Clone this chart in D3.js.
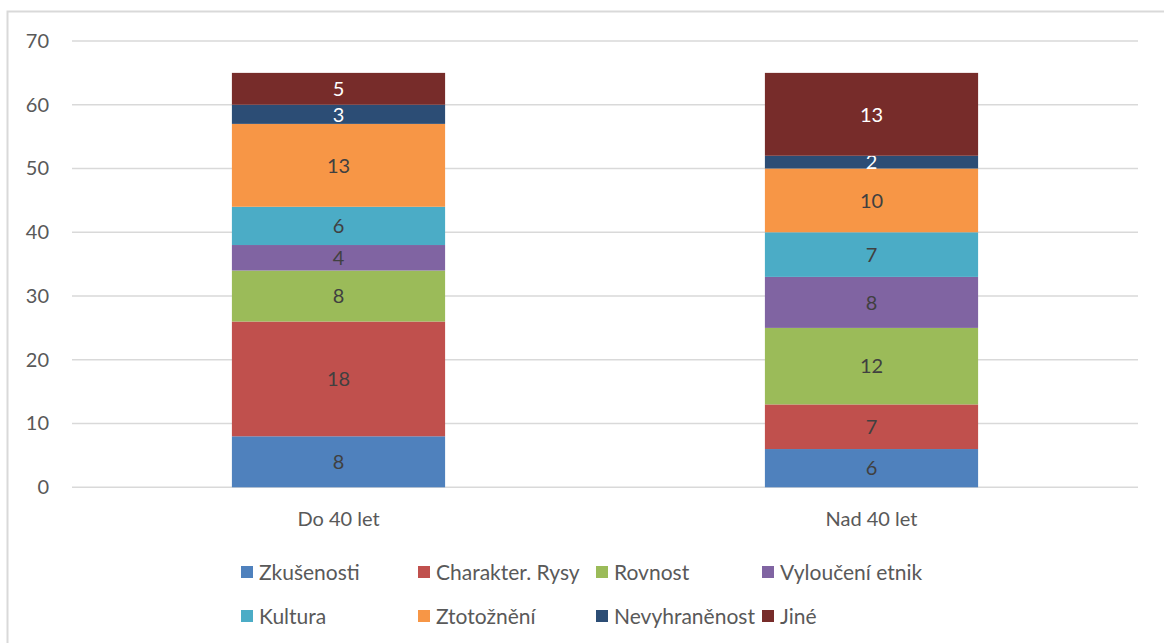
<!DOCTYPE html>
<html>
<head>
<meta charset="utf-8">
<script src="https://cdn.jsdelivr.net/npm/d3@7"></script>
<style>
  body { margin: 0; background: #fff; }
  svg text { font-family: Lato, "Open Sans", sans-serif; }
</style>
</head>
<body>
<div id="chart"></div>
<script>
var categories = ["Do 40 let", "Nad 40 let"];
var seriesNames = ["Zkušenosti", "Charakter. Rysy", "Rovnost", "Vyloučení etnik", "Kultura", "Ztotožnění", "Nevyhraněnost", "Jiné"];
var zkusenosti = [8, 6];
var charakter = [18, 7];
var rovnost = [8, 12];
var vylouceni = [4, 8];
var kultura = [6, 7];
var ztotozneni = [13, 10];
var nevyhranenost = [3, 2];
var jine = [5, 13];
var yTicks = [0, 10, 20, 30, 40, 50, 60, 70];
var colors = ["#4F81BD", "#C0504D", "#9BBB59", "#8064A2", "#4BACC6", "#F79646", "#2C4D75", "#772C2A"];
var labelColors = ["#404040", "#404040", "#404040", "#404040", "#404040", "#404040", "#ffffff", "#ffffff"];

var seriesValues = [zkusenosti, charakter, rovnost, vylouceni, kultura, ztotozneni, nevyhranenost, jine];
var table = categories.map(function(c, i) {
  var row = {cat: c};
  seriesNames.forEach(function(s, j) { row[s] = seriesValues[j][i]; });
  return row;
});

var W = 1164, H = 643;
var svg = d3.select("#chart").append("svg").attr("width", W).attr("height", H);

// chart frame
svg.append("rect").attr("x", 7.5).attr("y", 11.5).attr("width", W).attr("height", H)
  .attr("fill", "none").attr("stroke", "#d9d9d9").attr("stroke-width", 2);

var plotLeft = 72, plotRight = 1138, plotTop = 41, plotBottom = 487.3;

var x = d3.scaleBand().domain(categories).range([plotLeft, plotRight]).paddingInner(0.6).paddingOuter(0.3);
var y = d3.scaleLinear().domain([0, 70]).range([plotBottom, plotTop]);

// gridlines
svg.append("g").selectAll("line").data(yTicks).enter().append("line")
  .attr("x1", plotLeft).attr("x2", plotRight)
  .attr("y1", function(d) { return y(d); }).attr("y2", function(d) { return y(d); })
  .attr("stroke", "#d9d9d9").attr("stroke-width", 1.5);

// y axis labels
var yAxis = svg.append("g").attr("transform", "translate(" + plotLeft + ",0)")
  .call(d3.axisLeft(y).tickValues(yTicks).tickSize(0).tickPadding(23));
yAxis.select(".domain").remove();
yAxis.selectAll("text").attr("fill", "#595959").style("font-size", "20px");

var stack = d3.stack().keys(seriesNames)(table);

var layers = svg.append("g").selectAll("g").data(stack).enter().append("g")
  .attr("fill", function(d, i) { return colors[i]; });

layers.selectAll("rect").data(function(d) { return d; }).enter().append("rect")
  .attr("x", function(d) { return x(d.data.cat); })
  .attr("width", x.bandwidth())
  .attr("y", function(d) { return y(d[1]); })
  .attr("height", function(d) { return y(d[0]) - y(d[1]); });

// value labels
layers.each(function(s, i) {
  d3.select(this).selectAll("text").data(s).enter().append("text")
    .attr("x", function(d) { return x(d.data.cat) + x.bandwidth() / 2; })
    .attr("y", function(d) { return (y(d[0]) + y(d[1])) / 2; })
    .attr("dy", "0.36em")
    .attr("text-anchor", "middle")
    .attr("fill", labelColors[i])
    .style("font-size", "20px")
    .text(function(d) { return d[1] - d[0]; });
});

// x axis labels
var xAxis = svg.append("g").attr("transform", "translate(0," + plotBottom + ")")
  .call(d3.axisBottom(x).tickSize(0).tickPadding(25));
xAxis.select(".domain").remove();
xAxis.selectAll("text").attr("fill", "#595959").style("font-size", "20px");

// legend
var legX = [241, 418, 596, 762];
var legY = [572, 616];
var leg = svg.append("g").selectAll("g").data(seriesNames).enter().append("g")
  .attr("transform", function(d, i) { return "translate(" + legX[i % 4] + "," + legY[Math.floor(i / 4)] + ")"; });
leg.append("rect").attr("x", 0).attr("y", -6).attr("width", 12).attr("height", 12)
  .attr("fill", function(d, i) { return colors[i]; });
leg.append("text").attr("x", 18).attr("y", 0).attr("dy", "0.36em")
  .attr("fill", "#595959").style("font-size", "21px")
  .text(function(d) { return d; });
</script>
</body>
</html>
